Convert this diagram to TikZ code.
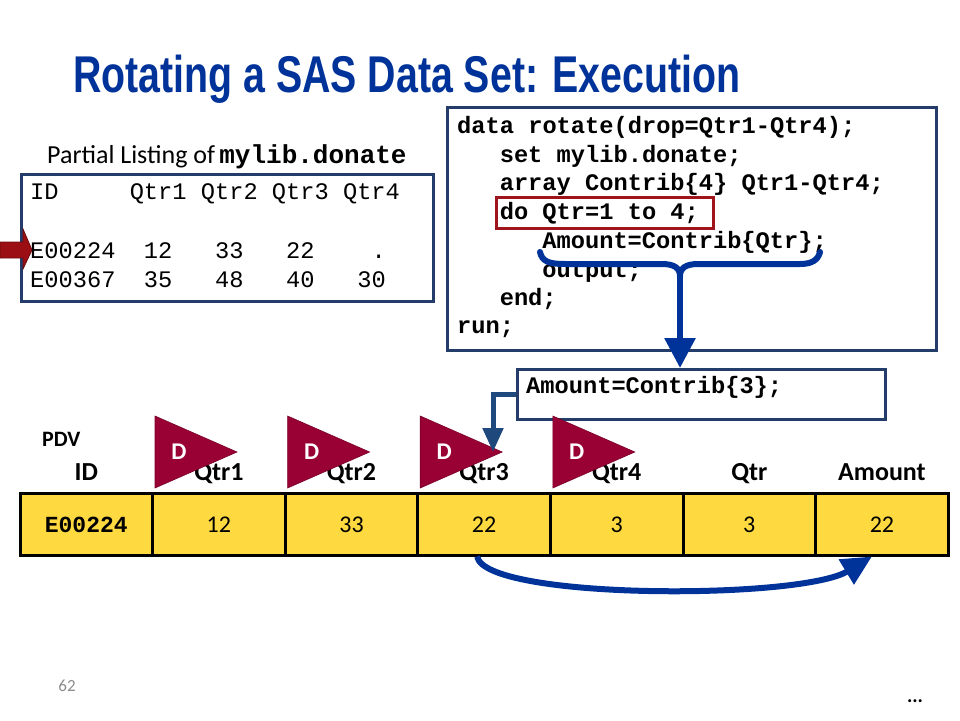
\documentclass[tikz,border=0pt]{standalone}
\usepackage{fontspec}
\usepackage{graphicx}
\setmainfont{Carlito}
\setmonofont{Liberation Mono}
\newfontfamily\titlefont{Liberation Sans}
\usetikzlibrary{arrows.meta,shapes.geometric}
\definecolor{titleblue}{RGB}{0,51,153}
\definecolor{boxblue}{RGB}{35,60,105}
\definecolor{arrowblue}{RGB}{0,51,153}
\definecolor{connblue}{RGB}{31,73,125}
\definecolor{hired}{RGB}{160,20,30}
\definecolor{dmaroon}{RGB}{153,0,51}
\definecolor{blockred}{RGB}{155,15,20}
\definecolor{pdvyellow}{RGB}{255,217,64}
\newcommand{\fsz}[1]{\fontsize{#1}{#1}\selectfont}
\tikzset{
  framebox/.style={draw=boxblue, line width=3pt, fill=white, anchor=north west, inner sep=0pt},
  listtxt/.style={anchor=base west, inner sep=0pt, font=\ttfamily\fsz{23.7}},
  codetxt/.style={anchor=base west, inner sep=0pt, font=\ttfamily\bfseries\fsz{23.7}},
  pdvcell/.style={draw=black, fill=pdvyellow, line width=3pt, minimum width=132.6pt, minimum height=62pt, inner sep=0pt},
  pdvhead/.style={anchor=base, inner sep=0pt, font=\bfseries\fsz{26}},
  pdvval/.style={anchor=base, inner sep=0pt, text=black, font=\fsz{24}},
  dtri/.style={fill=dmaroon, draw=dmaroon!80!black, line width=0.6pt},
  dlabel/.style={inner sep=0pt, text=white, font=\bfseries\fsz{24}},
  bigarrow/.style={arrowblue, line width=6pt},
}
\begin{document}
\begin{tikzpicture}[x=1pt,y=-1pt]
\fill[white] (0,0) rectangle (960,720);
\useasboundingbox (0,0) rectangle (960,720);

% title
\node[anchor=base west, inner sep=0pt, text=titleblue] (title) at (73,92)
  {\scalebox{0.76}[1]{\titlefont\bfseries\fsz{51.7}Rotating a SAS Data Set: Execution}};

% partial listing
\node[anchor=base west, inner sep=0pt] (lsttitle) at (47,163)
  {\fsz{26}Partial Listing of\,{\ttfamily\bfseries mylib.donate}};
\node[framebox, minimum width=412pt, minimum height=127pt] (lst) at (20,173) {};
\node[listtxt] (l1) at (30,199) {ID~~~~~Qtr1~Qtr2~Qtr3~Qtr4};
\node[listtxt] (l2) at (30,258) {E00224~~12~~~33~~~22~~~~.};
\node[listtxt] (l3) at (30,287) {E00367~~35~~~48~~~40~~~30};

% red block arrow pointing to current row
\fill[blockred, draw=blockred!70!black, line width=0.8pt]
  (0,242) -- (23,242) -- (23,229) -- (32,250) -- (23,269) -- (23,258) -- (0,258) -- cycle;

% code box
\node[framebox, minimum width=489pt, minimum height=243pt] (code) at (446,106) {};
\node[codetxt] (c1) at (457,133) {data rotate(drop=Qtr1-Qtr4);};
\node[codetxt] (c2) at (499.6,162) {set mylib.donate;};
\node[codetxt] (c3) at (499.6,190) {array Contrib\{4\} Qtr1-Qtr4;};
\node[codetxt] (c4) at (499.6,219) {do Qtr=1 to 4;};
\node[codetxt] (c5) at (542.2,248) {Amount=Contrib\{Qtr\};};
\node[codetxt] (c6) at (542.2,277) {output;};
\node[codetxt] (c7) at (499.6,305) {end;};
\node[codetxt] (c8) at (457,333) {run;};
\draw[hired, line width=3pt] (496,197) rectangle (713,228);

% brace and arrow down
\draw[bigarrow, line cap=round, line join=round]
  (540,252) .. controls (542,262) and (550,264) .. (565,264) -- (662,264)
  .. controls (674,264) and (680,268) .. (680,276)
  .. controls (680,268) and (686,264) .. (698,264) -- (800,264)
  .. controls (812,264) and (818,260) .. (820,252);
\coordinate (cusp) at (680,270);

% Amount=Contrib{3}; box
\node[framebox, minimum width=368pt, minimum height=50pt] (amt) at (516,368) {};
\node[codetxt] (amttxt) at (526,393) {Amount=Contrib\{3\};};
\draw[bigarrow, -{Triangle[length=30pt,width=30pt]}] (cusp) -- (cusp |- amt.north);

% PDV
\node[anchor=base west, inner sep=0pt, font=\bfseries\fsz{22}] (pdv) at (42,446) {PDV};
\node[pdvhead] (h0) at (86.3,480) {ID};
\node[pdvhead] (h1) at (218.9,480) {Qtr1};
\node[pdvhead] (h2) at (351.5,480) {Qtr2};
\node[pdvhead] (h3) at (484.1,480) {Qtr3};
\node[pdvhead] (h4) at (616.7,480) {Qtr4};
\node[pdvhead] (h5) at (749.3,480) {Qtr};
\node[pdvhead] (h6) at (881.9,480) {Amount};

\node[pdvcell] (v0) at (86.3,524) {};
\node[pdvcell] (v1) at (218.9,524) {};
\node[pdvcell] (v2) at (351.5,524) {};
\node[pdvcell] (v3) at (484.1,524) {};
\node[pdvcell] (v4) at (616.7,524) {};
\node[pdvcell] (v5) at (749.3,524) {};
\node[pdvcell] (v6) at (881.9,524) {};
\node[pdvval, font=\ttfamily\bfseries\fsz{23}] (t0) at (86.3,532) {E00224};
\node[pdvval] (t1) at (218.9,532) {12};
\node[pdvval] (t2) at (351.5,532) {33};
\node[pdvval] (t3) at (484.1,532) {22};
\node[pdvval] (t4) at (616.7,532) {3};
\node[pdvval] (t5) at (749.3,532) {3};
\node[pdvval] (t6) at (881.9,532) {22};

% D triangles
\foreach \k in {0,1,2,3} {
  \pgfmathsetmacro{\lx}{155+132.6*\k}
  \fill[dtri] (\lx,416) -- ({\lx+82},452) -- (\lx,488) -- cycle;
  \node[dlabel] (d\k) at ({\lx+24},452) {D};
}
\coordinate (d2tip) at (493,452);

% connector from Amount box to Qtr3
\draw[connblue, line width=5pt, -{Triangle[length=24pt,width=20pt]}]
  (amt.west) -| (d2tip);

% bottom curved arrow
\draw[bigarrow, -{Triangle[length=30pt,width=28pt]}]
  ([xshift=-7pt]v3.south) .. controls (485,600) and (800,600) .. ([xshift=-10pt]v6.south);

% footer
\node[inner sep=0pt, text=black!45, font=\fsz{17}] (pg) at (67,686) {62};
\node[inner sep=0pt, font=\bfseries\fsz{20}] (dots) at (915,701) {...};
\end{tikzpicture}
\end{document}
